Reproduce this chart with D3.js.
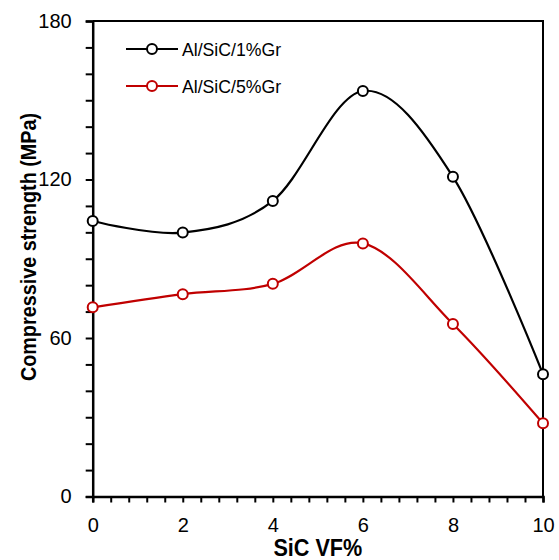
<!DOCTYPE html>
<html>
<head>
<meta charset="utf-8">
<script src="https://cdn.jsdelivr.net/npm/d3@7"></script>
<style>
  body { margin: 0; background: #fff; }
  text { font-family: "Liberation Sans", Arial, sans-serif; }
</style>
</head>
<body>
<script>
// data
var sicVF = [0, 2, 4, 6, 8, 10];
var gr1 = [104.3, 99.9, 111.9, 153.5, 121.0, 46.3];
var gr5 = [71.6, 76.6, 80.5, 95.8, 65.3, 27.7];
var seriesNames = ["Al/SiC/1%Gr", "Al/SiC/5%Gr"];
var seriesColors = ["#000000", "#c00000"];
var yTicks = [0, 60, 120, 180];
var xTicks = [0, 2, 4, 6, 8, 10];

var width = 559, height = 560;
var margin = { top: 21, right: 16, bottom: 63.5, left: 92.7 };

var svg = d3.select("body").append("svg")
  .attr("width", width)
  .attr("height", height);

var x = d3.scaleLinear().domain([0, 10]).range([margin.left, width - margin.right]);
var y = d3.scaleLinear().domain([0, 180]).range([height - margin.bottom, margin.top]);

// frame (top + right)
svg.append("path")
  .attr("d", "M" + x(0) + "," + y(180) + "H" + x(10) + "V" + y(0))
  .attr("fill", "none")
  .attr("stroke", "#000")
  .attr("stroke-width", 2);

// y axis
var yAxis = svg.append("g")
  .attr("transform", "translate(" + x(0) + ",0)")
  .call(d3.axisLeft(y).tickValues(d3.range(0, 181, 10)).tickSize(7).tickFormat(function(d) {
    return yTicks.indexOf(d) >= 0 ? d : "";
  }));
yAxis.select(".domain").attr("stroke-width", 2.5);
yAxis.selectAll(".tick line").attr("stroke-width", 2);
yAxis.selectAll(".tick text").attr("font-size", 20).attr("fill", "#000").attr("x", -21);

// x axis
var xAxis = svg.append("g")
  .attr("transform", "translate(0," + y(0) + ")")
  .call(d3.axisBottom(x).tickValues(d3.range(0, 10.01, 0.4)).tickSize(6).tickFormat(function(d) {
    var r = Math.round(d * 10) / 10;
    return xTicks.indexOf(r) >= 0 ? r : "";
  }));
xAxis.select(".domain").attr("stroke-width", 2.5);
xAxis.selectAll(".tick line").attr("stroke-width", 2);
xAxis.selectAll(".tick text").attr("font-size", 20).attr("fill", "#000").attr("y", 21);

// axis titles (slightly condensed like the original narrow font)
svg.append("text")
  .attr("transform", "translate(36,247) rotate(-90) scale(0.9,1)")
  .attr("text-anchor", "middle")
  .attr("font-size", 22)
  .attr("font-weight", "bold")
  .text("Compressive strength (MPa)");

svg.append("text")
  .attr("transform", "translate(" + ((x(0) + x(10)) / 2) + ",556) scale(0.9,1)")
  .attr("text-anchor", "middle")
  .attr("font-size", 24)
  .attr("font-weight", "bold")
  .text("SiC VF%");

// lines
var line = d3.line()
  .x(function(d) { return x(d[0]); })
  .y(function(d) { return y(d[1]); })
  .curve(d3.curveCatmullRom.alpha(0));

[gr1, gr5].forEach(function(vals, i) {
  var pts = sicVF.map(function(v, j) { return [v, vals[j]]; });
  svg.append("path")
    .datum(pts)
    .attr("d", line)
    .attr("fill", "none")
    .attr("stroke", seriesColors[i])
    .attr("stroke-width", 2.2);
  svg.selectAll(".pt" + i)
    .data(pts)
    .enter()
    .append("circle")
    .attr("cx", function(d) { return x(d[0]); })
    .attr("cy", function(d) { return y(d[1]); })
    .attr("r", 5)
    .attr("fill", "#fff")
    .attr("stroke", seriesColors[i])
    .attr("stroke-width", 2);
});

// legend
seriesNames.forEach(function(name, i) {
  var ly = 49 + i * 37;
  var g = svg.append("g");
  g.append("line")
    .attr("x1", 126).attr("x2", 178)
    .attr("y1", ly).attr("y2", ly)
    .attr("stroke", seriesColors[i])
    .attr("stroke-width", 2.2);
  g.append("circle")
    .attr("cx", 152).attr("cy", ly).attr("r", 5)
    .attr("fill", "#fff")
    .attr("stroke", seriesColors[i])
    .attr("stroke-width", 2);
  g.append("text")
    .attr("transform", "translate(182," + (ly + 7) + ") scale(0.93,1)")
    .attr("font-size", 19)
    .text(name);
});
</script>
</body>
</html>
